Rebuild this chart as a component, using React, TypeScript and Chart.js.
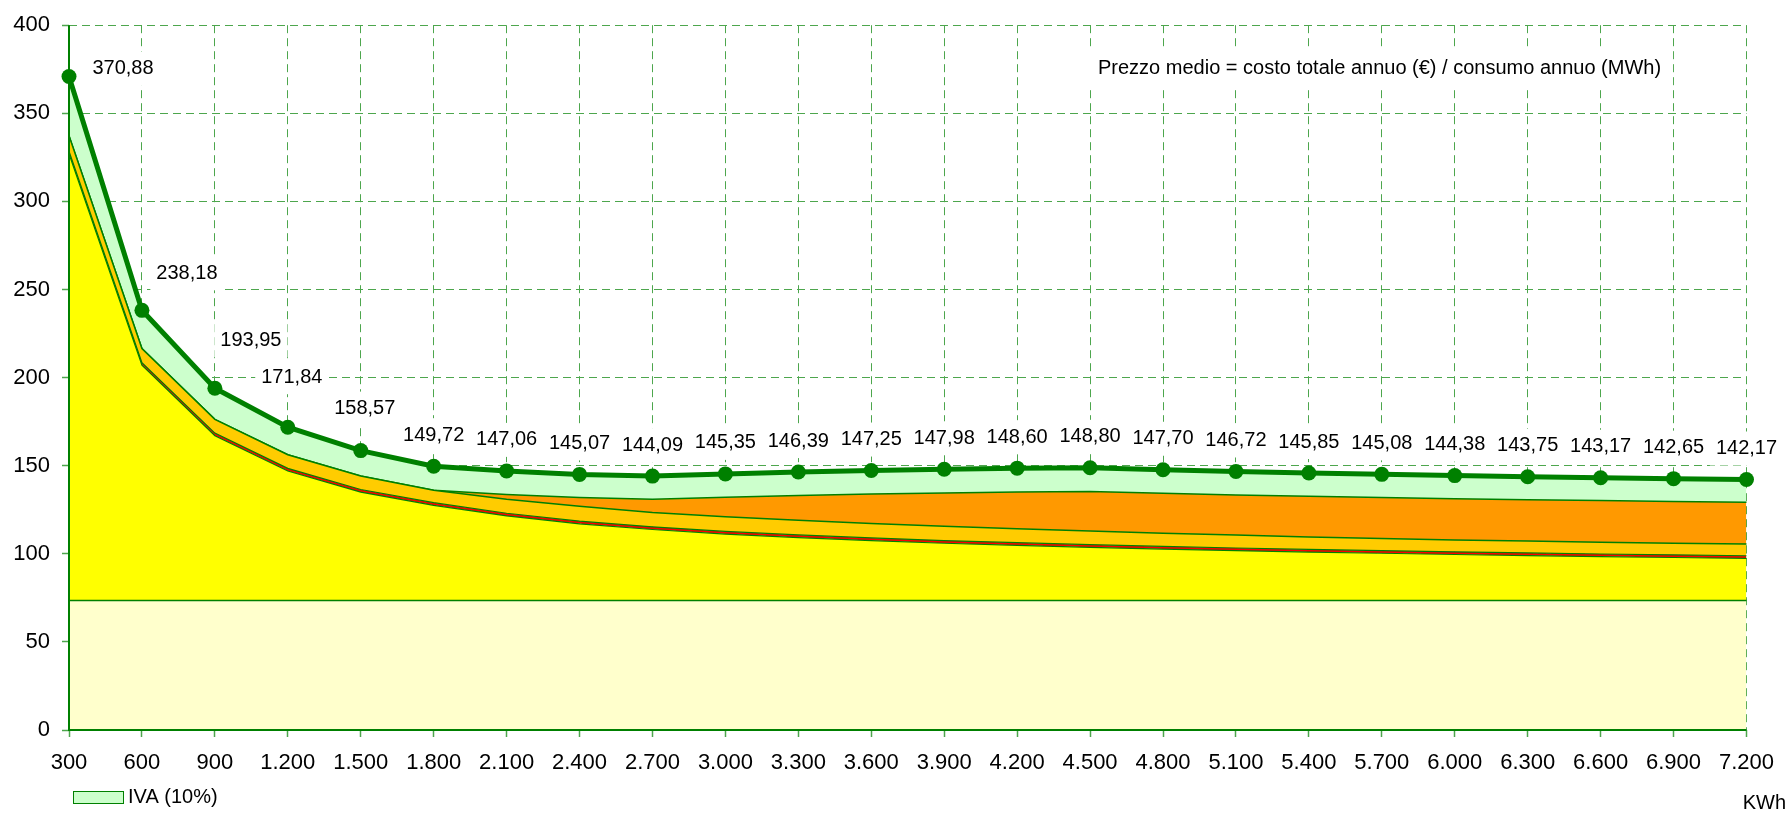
import React, { useEffect, useRef } from 'react';
import { Chart, registerables } from 'chart.js';

Chart.register(...registerables);

// ---- data ----
const categories = ['300', '600', '900', '1.200', '1.500', '1.800', '2.100', '2.400', '2.700', '3.000', '3.300', '3.600', '3.900', '4.200', '4.500', '4.800', '5.100', '5.400', '5.700', '6.000', '6.300', '6.600', '6.900', '7.200'];

// average total price (top of IVA band)
const totalPrice = [370.88, 238.18, 193.95, 171.84, 158.57, 149.72, 147.06, 145.07, 144.09, 145.35, 146.39, 147.25, 147.98, 148.6, 148.8, 147.7, 146.72, 145.85, 145.08, 144.38, 143.75, 143.17, 142.65, 142.17];

// price before IVA (top of orange band / bottom of IVA band)
const preTaxTop = [337.2, 216.5, 176.3, 156.2, 144.2, 136.1, 133.7, 131.9, 131.0, 132.1, 133.1, 133.9, 134.5, 135.1, 135.3, 134.3, 133.4, 132.6, 131.9, 131.3, 130.7, 130.2, 129.7, 129.2];

// top of the dark-yellow band
const orangeYellowTop = [337.2, 216.5, 176.3, 156.2, 144.2, 136.1, 131.0, 127.0, 123.5, 121.0, 119.0, 117.2, 115.6, 114.2, 112.9, 111.7, 110.6, 109.6, 108.7, 107.9, 107.2, 106.6, 106.0, 105.5];

// top of the thin red band
const redTop = [328.5, 208.5, 168.5, 148.5, 136.5, 129.0, 123.0, 118.5, 115.3, 112.7, 110.7, 109.0, 107.5, 106.3, 105.2, 104.2, 103.3, 102.5, 101.8, 101.1, 100.5, 99.9, 99.4, 98.9];

// top of the bright-yellow band
const yellowTop = [327.0, 207.0, 167.0, 147.0, 135.0, 127.5, 121.5, 117.0, 113.8, 111.2, 109.2, 107.5, 106.0, 104.8, 103.7, 102.7, 101.8, 101.0, 100.3, 99.6, 99.0, 98.4, 97.9, 97.4];

// top of the pale-yellow base band
const baseTop = [73.5, 73.5, 73.5, 73.5, 73.5, 73.5, 73.5, 73.5, 73.5, 73.5, 73.5, 73.5, 73.5, 73.5, 73.5, 73.5, 73.5, 73.5, 73.5, 73.5, 73.5, 73.5, 73.5, 73.5];

const yMin = 0;
const yMax = 400;
const yStep = 50;

const noteText = 'Prezzo medio = costo totale annuo (€) / consumo annuo (MWh)';
const legendText = 'IVA (10%)';
const unitText = 'KWh';

// ---- presentation config ----
const FONT = '"Liberation Sans", Arial, Helvetica, sans-serif';
const DARK_GREEN = '#008000';
const GRID_GREEN = '#4DA64D';

// label centre offsets relative to each marker (px)
const labelOffsets: [number, number][] = [
  [54, -8], [45, -37], [36, -48], [4, -50], [4, -42],
  [0, -31], [0, -31], [0, -31], [0, -31], [0, -31], [0, -31], [0, -31],
  [0, -31], [0, -31], [0, -31], [0, -31], [0, -31], [0, -31], [0, -31],
  [0, -31], [0, -31], [0, -31], [0, -31], [0, -31],
];

const fmt = (v: number) => v.toFixed(2).replace('.', ',');

const overlayPlugin = {
  id: 'overlay',
  beforeDatasetsDraw(chart: any) {
    const ctx = chart.ctx as CanvasRenderingContext2D;
    const meta = chart.getDatasetMeta(5);
    ctx.save();
    ctx.font = `20px ${FONT}`;
    ctx.fillStyle = '#ffffff';
    meta.data.forEach((pt: any, i: number) => {
      const [dx, dy] = labelOffsets[i];
      const w = ctx.measureText(fmt(totalPrice[i])).width + 12;
      ctx.fillRect(pt.x + dx - w / 2, pt.y + dy - 17, w, 34);
    });
    const nw = ctx.measureText(noteText).width;
    ctx.fillRect(1086, 50, nw + 24, 37);
    ctx.restore();
  },
  afterDatasetsDraw(chart: any) {
    const ctx = chart.ctx as CanvasRenderingContext2D;
    const { left, right, top, bottom } = chart.chartArea;
    ctx.save();
    ctx.strokeStyle = DARK_GREEN;
    ctx.lineWidth = 2;
    ctx.beginPath();
    ctx.moveTo(left, top);
    ctx.lineTo(left, bottom);
    ctx.lineTo(right, bottom);
    ctx.stroke();

    const meta = chart.getDatasetMeta(5);
    ctx.font = `20px ${FONT}`;
    ctx.fillStyle = '#000000';
    ctx.textAlign = 'center';
    ctx.textBaseline = 'middle';
    meta.data.forEach((pt: any, i: number) => {
      const [dx, dy] = labelOffsets[i];
      ctx.fillText(fmt(totalPrice[i]), pt.x + dx, pt.y + dy);
    });
    ctx.textAlign = 'left';
    ctx.fillText(noteText, 1098, 68);
    ctx.restore();
  },
  afterDraw(chart: any) {
    const ctx = chart.ctx as CanvasRenderingContext2D;
    ctx.save();
    // legend
    ctx.fillStyle = '#CCFFCC';
    ctx.fillRect(73.5, 791.5, 50, 12);
    ctx.strokeStyle = DARK_GREEN;
    ctx.lineWidth = 1;
    ctx.strokeRect(73.5, 791.5, 50, 12);
    ctx.font = `20px ${FONT}`;
    ctx.fillStyle = '#000000';
    ctx.textAlign = 'left';
    ctx.textBaseline = 'middle';
    ctx.fillText(legendText, 128, 797);
    ctx.textAlign = 'right';
    ctx.fillText(unitText, 1786, 803);
    ctx.restore();
  },
};

export default function App() {
  const canvasRef = useRef<HTMLCanvasElement | null>(null);

  useEffect(() => {
    document.body.style.margin = '0';
    const canvas = canvasRef.current;
    if (!canvas) return;
    const lineDs = (data: number[], bg: string, fill: any, bw: number) => ({
      data,
      backgroundColor: bg,
      borderColor: DARK_GREEN,
      borderWidth: bw,
      fill,
      pointRadius: 0,
      pointHoverRadius: 0,
      tension: 0,
    });
    const chart = new Chart(canvas, {
      type: 'line',
      data: {
        labels: categories,
        datasets: [
          lineDs(baseTop, '#FFFFCC', 'origin', 1.5),
          lineDs(yellowTop, '#FFFF00', '-1', 1.2),
          lineDs(redTop, '#FF0000', '-1', 1.2),
          lineDs(orangeYellowTop, '#FFCC00', '-1', 1.5),
          lineDs(preTaxTop, '#FF9900', '-1', 1.5),
          {
            data: totalPrice,
            backgroundColor: '#CCFFCC',
            borderColor: DARK_GREEN,
            borderWidth: 5,
            fill: '-1',
            pointRadius: 7.5,
            pointHoverRadius: 7.5,
            pointBackgroundColor: DARK_GREEN,
            pointBorderColor: DARK_GREEN,
            pointBorderWidth: 0,
            tension: 0,
            clip: false,
          } as any,
        ],
      },
      options: {
        responsive: false,
        animation: false,
        devicePixelRatio: 1,
        events: [],
        layout: { padding: { top: 19, right: 36, left: 0, bottom: 0 } },
        plugins: {
          legend: { display: false },
          tooltip: { enabled: false },
        },
        scales: {
          x: {
            type: 'category',
            offset: false,
            grid: {
              color: GRID_GREEN,
              lineWidth: 1,
              tickColor: GRID_GREEN,
              tickLength: 7,
              tickWidth: 1.5,
            },
            border: { display: false, dash: [8, 5] },
            ticks: {
              color: '#000000',
              font: { family: FONT, size: 22 },
              padding: 13,
              maxRotation: 0,
              autoSkip: false,
            },
            afterFit: (scale: any) => {
              scale.height = 84;
            },
          },
          y: {
            type: 'linear',
            min: yMin,
            max: yMax,
            grid: {
              color: GRID_GREEN,
              lineWidth: 1,
              tickColor: GRID_GREEN,
              tickLength: 7,
              tickWidth: 1.5,
            },
            border: { display: false, dash: [8, 5] },
            ticks: {
              stepSize: yStep,
              color: '#000000',
              font: { family: FONT, size: 22 },
              padding: 12,
            },
            afterFit: (scale: any) => {
              scale.width = 69;
            },
          },
        },
      },
      plugins: [overlayPlugin],
    });
    return () => chart.destroy();
  }, []);

  return (
    <div style={{ position: 'absolute', left: 0, top: 0, width: 1787, height: 814 }}>
      <canvas ref={canvasRef} width={1787} height={814} style={{ display: 'block', width: 1787, height: 814 }} />
    </div>
  );
}
